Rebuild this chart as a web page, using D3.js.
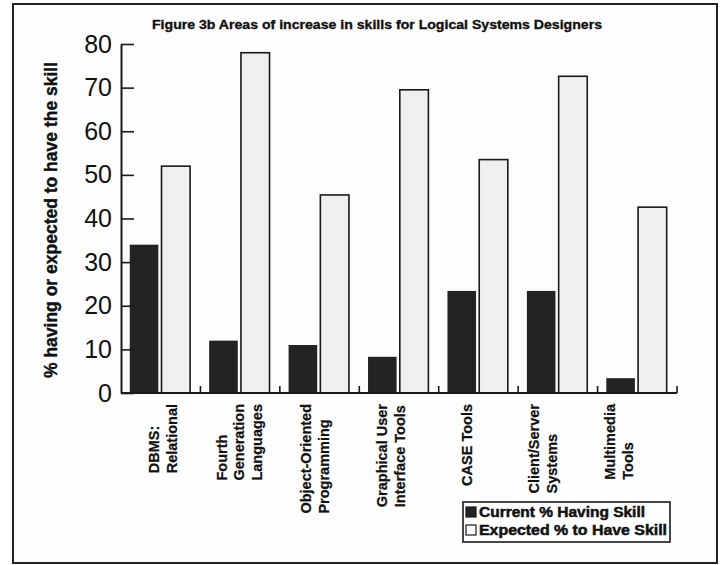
<!DOCTYPE html>
<html><head><meta charset="utf-8">
<script src="https://cdn.jsdelivr.net/npm/d3@7"></script>
<style>
html,body{margin:0;padding:0;background:#fff;}
svg{display:block;font-family:"Liberation Sans",Arial,Helvetica,sans-serif;}
</style></head>
<body><svg id="c" width="726" height="565"></svg>
<script>
const titleText = "Figure 3b Areas of increase in skills for Logical Systems Designers";
const yTitle = "% having or expected to have the skill";
const categories = ["DBMS: Relational","Fourth Generation Languages","Object-Oriented Programming","Graphical User Interface Tools","CASE Tools","Client/Server Systems","Multimedia Tools"];
const categoryLines = [["DBMS:","Relational"],["Fourth","Generation","Languages"],["Object-Oriented","Programming"],["Graphical User","Interface Tools"],["CASE Tools"],["Client/Server","Systems"],["Multimedia","Tools"]];
const seriesNames = ["Current % Having Skill","Expected % to Have Skill"];
const currentValues = [34, 12, 11, 8.3, 23.4, 23.4, 3.4];
const expectedValues = [52, 78, 45.4, 69.5, 53.5, 72.6, 42.6];
const yTicks = [0,10,20,30,40,50,60,70,80];

const svg = d3.select("#c");
// outer frame
svg.append("rect").attr("x",13).attr("y",4).attr("width",704).attr("height",559)
  .attr("fill","#fdfdfd").attr("stroke","#222").attr("stroke-width",2);

const x0 = d3.scaleBand().domain(categories).range([121,677]).paddingInner(0).paddingOuter(0);
const bw = x0.bandwidth();
const x1 = d3.scaleBand().domain(seriesNames).range([bw*0.11, bw*0.87]).paddingInner(0.1);
const y = d3.scaleLinear().domain([0,80]).range([393,44]);
const labelX = d3.scalePoint().domain(categories).range([163,619]);

// title
svg.append("text").attr("x",377).attr("y",29).attr("text-anchor","middle")
  .attr("font-weight","bold").attr("font-size",13).attr("fill","#111")
  .attr("stroke","#111").attr("stroke-width",0.35)
  .attr("textLength",450).attr("lengthAdjust","spacingAndGlyphs").text(titleText);

// bars
const data = categories.map((c,i)=>({c, vals:[{s:seriesNames[0],v:currentValues[i]},{s:seriesNames[1],v:expectedValues[i]}]}));
const g = svg.append("g");
const grp = g.selectAll("g.cat").data(data).join("g").attr("transform",d=>`translate(${x0(d.c)},0)`);
grp.selectAll("rect").data(d=>d.vals).join("rect")
  .attr("x",d=>x1(d.s)).attr("width",x1.bandwidth())
  .attr("y",d=>y(d.v)).attr("height",d=>y(0)-y(d.v))
  .attr("fill",(d,i)=>i===0?"#232323":"#efefef")
  .attr("stroke",(d,i)=>i===0?"none":"#1a1a1a").attr("stroke-width",1.6);

// y axis
const yAxis = d3.axisLeft(y).tickValues(yTicks).tickSizeInner(-13).tickSizeOuter(0).tickPadding(9);
const ya = svg.append("g").attr("transform","translate(121,0)").call(yAxis);
ya.select(".domain").attr("stroke","#1a1a1a").attr("stroke-width",2);
ya.selectAll(".tick line").attr("stroke","#1a1a1a").attr("stroke-width",1.6);
ya.selectAll(".tick text").attr("font-size",25).attr("fill","#111").attr("font-family","'Liberation Sans',Arial,sans-serif");

// x baseline with upward boundary ticks
svg.append("line").attr("x1",121).attr("x2",677).attr("y1",y(0)).attr("y2",y(0))
  .attr("stroke","#1a1a1a").attr("stroke-width",2);
const bounds = categories.slice(1).map(c=>x0(c)).concat([x0.range()[1]]);
svg.selectAll("line.bt").data(bounds).join("line").attr("class","bt")
  .attr("x1",d=>d).attr("x2",d=>d).attr("y1",y(0)).attr("y2",y(0)-7)
  .attr("stroke","#1a1a1a").attr("stroke-width",1.6);

// y title
svg.append("text").attr("transform","translate(57,220) rotate(-90)").attr("text-anchor","middle")
  .attr("font-weight","bold").attr("font-size",17.5).attr("fill","#111")
  .attr("stroke","#111").attr("stroke-width",0.4).text(yTitle);

// x labels
const lh = 17.5;
categories.forEach((c,i)=>{
  const lines = categoryLines[i];
  const gg = svg.append("g");
  const texts = lines.map((t,j)=>gg.append("text").attr("font-weight","bold").attr("font-size",14.5)
    .attr("fill","#111").attr("stroke","#111").attr("stroke-width",0.25).text(t));
  const maxLen = d3.max(texts, t=>t.node().getComputedTextLength());
  const n = lines.length;
  texts.forEach((t,j)=>{
    const cx = labelX(c) + (j-(n-1)/2)*lh + 5;
    t.attr("transform",`translate(${cx},${404+maxLen}) rotate(-90)`).attr("text-anchor","start");
  });
});

// legend
const lg = svg.append("g");
lg.append("rect").attr("x",463).attr("y",502).attr("width",207).attr("height",40)
  .attr("fill","#fff").attr("stroke","#1a1a1a").attr("stroke-width",1.6);
seriesNames.forEach((s,i)=>{
  const yy = 507 + i*18;
  lg.append("rect").attr("x",466).attr("y",yy).attr("width",10).attr("height",10)
    .attr("fill",i===0?"#232323":"#fff").attr("stroke","#1a1a1a").attr("stroke-width",1.2);
  lg.append("text").attr("x",479).attr("y",yy+10).attr("font-weight","bold").attr("font-size",14)
    .attr("fill","#111").attr("stroke","#111").attr("stroke-width",0.5)
    .attr("textLength",i===0?166:188).attr("lengthAdjust","spacingAndGlyphs").text(s);
});
</script></body></html>
